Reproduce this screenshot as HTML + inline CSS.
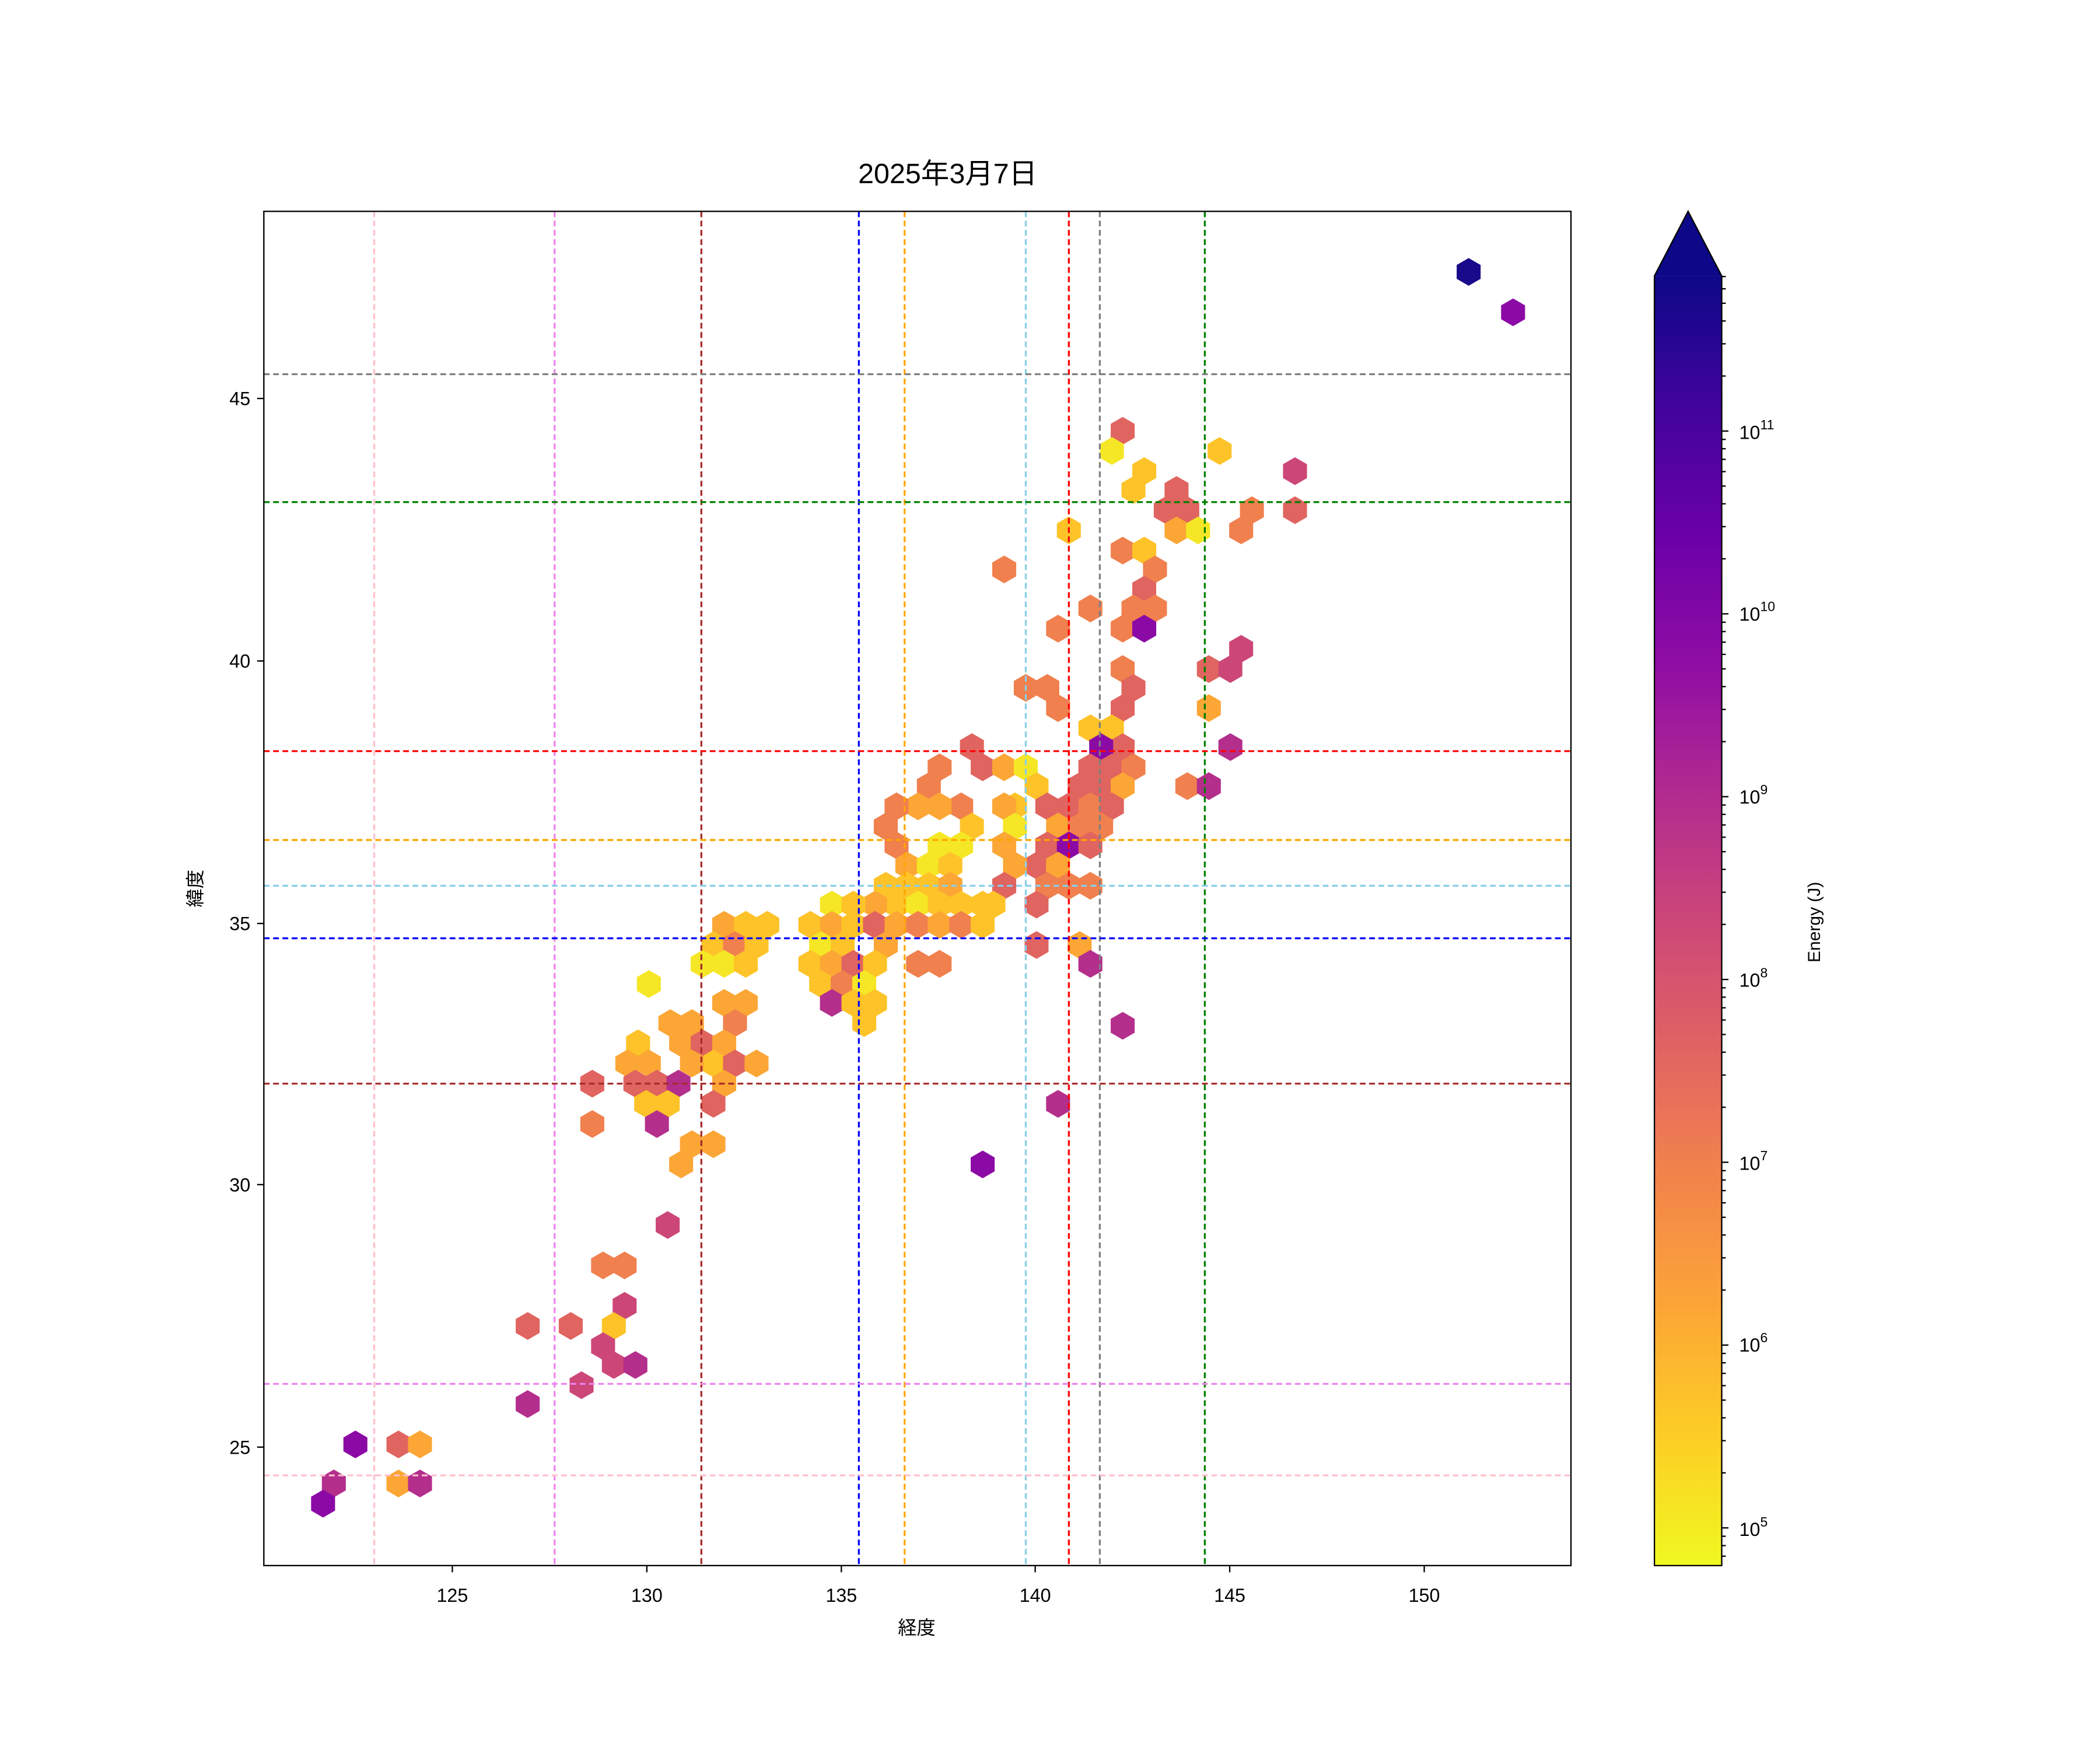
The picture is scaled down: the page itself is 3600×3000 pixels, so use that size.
<!DOCTYPE html>
<html><head><meta charset="utf-8"><style>html,body{margin:0;padding:0;background:#fff}svg{display:block}</style></head><body>
<svg width="3600" height="3000" viewBox="0 0 1560 1300" xmlns="http://www.w3.org/2000/svg" font-family="'Liberation Sans','Noto Sans CJK JP',sans-serif">
<defs>
<polygon id="h" points="0,-10.3 8.9,-5.15 8.9,5.15 0,10.3 -8.9,5.15 -8.9,-5.15"/>
<linearGradient id="cb" x1="0" y1="1" x2="0" y2="0">
<stop offset="0" stop-color="#f0f921"/><stop offset="0.1" stop-color="#fcce25"/><stop offset="0.2" stop-color="#fca636"/><stop offset="0.3" stop-color="#f2844b"/><stop offset="0.4" stop-color="#e16462"/><stop offset="0.5" stop-color="#cc4778"/><stop offset="0.6" stop-color="#b12a90"/><stop offset="0.7" stop-color="#8f0da4"/><stop offset="0.8" stop-color="#6a00a8"/><stop offset="0.9" stop-color="#41049d"/><stop offset="1" stop-color="#0d0887"/>
</linearGradient>
<clipPath id="ax"><rect x="196" y="157" width="971" height="1006"/></clipPath>
</defs>
<rect width="1560" height="1300" fill="#fff"/>
<g clip-path="url(#ax)" id="hexes"></g>
<g clip-path="url(#ax)" stroke-width="1.4" stroke-dasharray="4.3,2.6" fill="none">
<line x1="278" y1="157" x2="278" y2="1163" stroke="pink"/>
<line x1="412" y1="157" x2="412" y2="1163" stroke="violet"/>
<line x1="521" y1="157" x2="521" y2="1163" stroke="brown"/>
<line x1="638" y1="157" x2="638" y2="1163" stroke="blue"/>
<line x1="672" y1="157" x2="672" y2="1163" stroke="orange"/>
<line x1="762" y1="157" x2="762" y2="1163" stroke="skyblue"/>
<line x1="794" y1="157" x2="794" y2="1163" stroke="red"/>
<line x1="817" y1="157" x2="817" y2="1163" stroke="gray"/>
<line x1="895" y1="157" x2="895" y2="1163" stroke="green"/>
<line x1="196" y1="278" x2="1167" y2="278" stroke="gray"/>
<line x1="196" y1="373" x2="1167" y2="373" stroke="green"/>
<line x1="196" y1="558" x2="1167" y2="558" stroke="red"/>
<line x1="196" y1="624" x2="1167" y2="624" stroke="orange"/>
<line x1="196" y1="658" x2="1167" y2="658" stroke="skyblue"/>
<line x1="196" y1="697" x2="1167" y2="697" stroke="blue"/>
<line x1="196" y1="805" x2="1167" y2="805" stroke="brown"/>
<line x1="196" y1="1028" x2="1167" y2="1028" stroke="violet"/>
<line x1="196" y1="1096" x2="1167" y2="1096" stroke="pink"/>
</g>
<rect x="196" y="157" width="971" height="1006" fill="none" stroke="#000" stroke-width="1"/>
<g stroke="#000" stroke-width="1">
<line x1="336" y1="1163" x2="336" y2="1168"/><line x1="480.5" y1="1163" x2="480.5" y2="1168"/><line x1="625" y1="1163" x2="625" y2="1168"/><line x1="769" y1="1163" x2="769" y2="1168"/><line x1="913.5" y1="1163" x2="913.5" y2="1168"/><line x1="1058" y1="1163" x2="1058" y2="1168"/>
<line x1="191" y1="296" x2="196" y2="296"/><line x1="191" y1="491" x2="196" y2="491"/><line x1="191" y1="686" x2="196" y2="686"/><line x1="191" y1="880" x2="196" y2="880"/><line x1="191" y1="1075" x2="196" y2="1075"/>
</g>
<g font-size="14" text-anchor="middle" fill="#000">
<text x="336" y="1190">125</text><text x="480.5" y="1190">130</text><text x="625" y="1190">135</text><text x="769" y="1190">140</text><text x="913.5" y="1190">145</text><text x="1058" y="1190">150</text>
</g>
<g font-size="14" text-anchor="end" fill="#000">
<text x="186" y="301">45</text><text x="186" y="496">40</text><text x="186" y="691">35</text><text x="186" y="885">30</text><text x="186" y="1080">25</text>
</g>
<text x="681" y="1214" font-size="14" text-anchor="middle">経度</text>
<text transform="translate(150,660) rotate(-90)" font-size="14" text-anchor="middle">緯度</text>
<text x="704" y="136" font-size="21" text-anchor="middle">2025年3月7日</text>
<rect x="1229" y="205" width="50" height="958" fill="url(#cb)"/>
<polygon points="1229,205 1254,157 1279,205" fill="#0d0887"/>
<polygon points="1229,1163 1229,205 1254,157 1279,205 1279,1163" fill="none" stroke="#000" stroke-width="1"/>
<g stroke="#000" stroke-width="1" id="cbt"></g>
<g font-size="14" fill="#000">
<text x="1292" y="326">10<tspan font-size="10" dy="-7">11</tspan></text>
<text x="1292" y="461">10<tspan font-size="10" dy="-7">10</tspan></text>
<text x="1292" y="597">10<tspan font-size="10" dy="-7">9</tspan></text>
<text x="1292" y="733">10<tspan font-size="10" dy="-7">8</tspan></text>
<text x="1292" y="869">10<tspan font-size="10" dy="-7">7</tspan></text>
<text x="1292" y="1004">10<tspan font-size="10" dy="-7">6</tspan></text>
<text x="1292" y="1141">10<tspan font-size="10" dy="-7">5</tspan></text>
</g>
<text transform="translate(1352,685) rotate(-90)" font-size="13" text-anchor="middle">Energy (J)</text>
<script>
var C={Y:"#f5e726",G:"#fdc328",O:"#fca636",R:"#f0804e",S:"#e0645f",P:"#cc4778",M:"#b42e8c",V:"#8b0aa5",I:"#5c01a6",N:"#180a8a"};
var d="1091,202,N 1124,232,V 834,320,S 826,335,Y 906,335,G 962,350,P 850,350,G 842,364,G 874,364,S 866,379,S 882,379,S 962,379,S 930,379,R 794,394,G 874,394,O 890,394,Y 922,394,R 834,409,R 850,409,G 858,423,R 746,423,R 850,438,S 842,452,R 858,452,R 810,452,R 834,467,R 850,467,V 786,467,R 922,482,P 898,497,S 914,497,P 834,497,R 842,511,S 762,511,R 778,511,R 786,526,R 834,526,S 898,526,O 810,541,G 826,541,G 834,555,S 818,555,V 914,555,M 722,555,S 730,570,S 746,570,O 762,570,Y 698,570,R 690,584,R 770,584,G 810,570,S 826,570,S 842,570,R 802,584,S 818,584,S 834,584,O 882,584,R 898,584,M 754,599,G 746,599,O 714,599,R 698,599,O 682,599,O 666,599,R 778,599,S 794,599,S 810,599,R 826,599,S 658,614,R 722,614,G 754,614,Y 786,614,O 802,614,R 818,614,R 746,628,O 666,628,R 674,643,O 698,628,Y 714,628,Y 690,643,Y 706,643,G 778,628,S 794,628,V 810,628,S 770,643,S 754,643,O 786,643,O 658,658,G 674,658,G 690,658,G 706,658,O 746,658,S 778,658,R 794,658,R 810,658,R 666,672,G 682,672,Y 698,672,G 714,672,G 730,672,G 738,672,G 770,672,S 650,672,O 618,672,Y 634,672,G 602,687,G 618,687,O 634,687,G 650,687,S 666,687,O 682,687,R 698,687,O 714,687,R 730,687,G 538,687,O 554,687,G 570,687,G 530,702,G 546,702,R 562,702,G 610,702,Y 626,702,G 658,702,O 802,702,O 770,702,S 522,716,Y 538,716,Y 554,716,G 602,716,G 618,716,O 634,716,S 650,716,G 682,716,R 698,716,R 810,716,M 610,731,G 626,731,R 642,731,Y 482,731,Y 538,745,O 554,745,O 618,745,M 634,745,G 650,745,G 834,762,M 546,760,R 498,760,O 514,760,O 642,760,G 474,775,G 506,775,O 522,775,S 538,775,O 530,790,G 546,790,S 562,790,O 466,790,O 482,790,O 514,790,O 440,805,S 472,805,S 488,805,S 504,805,M 538,805,O 480,820,G 496,820,G 530,820,S 488,835,M 440,835,R 514,850,O 530,850,O 506,865,O 730,865,V 786,820,M 496,910,P 448,940,R 464,940,R 464,970,P 456,985,G 392,985,S 424,985,S 448,1000,P 456,1014,P 472,1014,M 432,1029,P 392,1043,M 264,1073,V 296,1073,S 312,1073,O 248,1102,M 296,1102,O 312,1102,M 240,1117,V";
var g=document.getElementById("hexes"),ns="http://www.w3.org/2000/svg";
d.split(" ").forEach(function(s){var a=s.split(",");var u=document.createElementNS(ns,"use");u.setAttribute("href","#h");u.setAttribute("x",a[0]);u.setAttribute("y",a[1]);u.setAttribute("fill",C[a[2]]);g.appendChild(u);});
var t=document.getElementById("cbt");
for(var e=4;e<=11;e++){for(var m=1;m<10;m++){var y=1135-(e-5+Math.log10(m))*135.8;if(y<205||y>1163)continue;var l=document.createElementNS(ns,"line");var L=m==1?5:3;l.setAttribute("x1",1279);l.setAttribute("x2",1279+L);l.setAttribute("y1",y);l.setAttribute("y2",y);t.appendChild(l);}}
</script>
</svg>
</body></html>
